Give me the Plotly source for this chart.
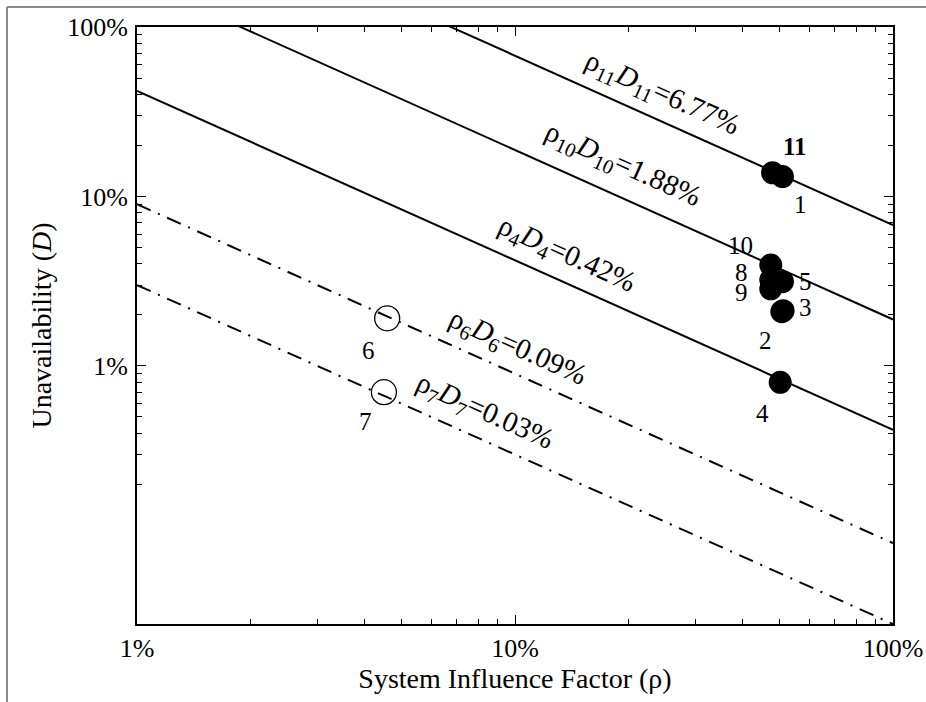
import numpy as np
import plotly.graph_objects as go

# iso-risk lines rho*D = const
line_names = ["11", "10", "4", "6", "7"]
line_products = [0.0677, 0.0188, 0.0042, 0.0009, 0.0003]
line_labels = ["6.77%", "1.88%", "0.42%", "0.09%", "0.03%"]
line_dashed = [False, False, False, True, True]

# systems (filled = on the solid lines, open = on the dash-dot lines)
filled_ids = ["11", "1", "10", "5", "8", "9", "3", "2", "4"]
filled_rho = [0.480, 0.510, 0.475, 0.510, 0.475, 0.475, 0.508, 0.512, 0.503]
filled_D = [0.138, 0.131, 0.0394, 0.0314, 0.0322, 0.0285, 0.0209, 0.0212, 0.0080]
open_ids = ["6", "7"]
open_rho = [0.0459, 0.0450]
open_D = [0.0191, 0.0070]

major_ticks = [0.01, 0.1, 1]
tick_text = ["1%", "10%", "100%"]

W, H = 926, 702
ML, MR, MT, MB = 137, 33, 27, 78
FONT = "Liberation Serif"
Y_LOW = 3e-4

# where the rotated line labels sit (rho, D) and point label offsets (px)
label_pos = {"11": (0.245, 0.4025), "10": (0.192, 0.153), "4": (0.137, 0.0452),
             "6": (0.1016, 0.0128), "7": (0.083, 0.00535)}
pt_offset = {"11": (22, 26), "1": (18, -28), "10": (-30, 20), "5": (23, 0),
             "8": (-29, 7), "9": (-29, -4), "3": (24, 4), "2": (-18, -30),
             "4": (-18, -31), "6": (-19, -32), "7": (-18, -29)}

fig = go.Figure()

rho_span = np.array([0.01, 1.0])
for name, c, dashed in zip(line_names, line_products, line_dashed):
    fig.add_trace(go.Scatter(
        x=rho_span, y=c / rho_span, mode="lines",
        line=dict(color="black", width=2, dash="15px,8px,2px,8px" if dashed else "solid"),
        hoverinfo="skip", showlegend=False))

fig.add_trace(go.Scatter(
    x=filled_rho, y=filled_D, mode="markers", text=filled_ids,
    marker=dict(size=23, color="black"), showlegend=False))
fig.add_trace(go.Scatter(
    x=open_rho, y=open_D, mode="markers", text=open_ids,
    marker=dict(size=25, color="rgba(0,0,0,0)", line=dict(color="black", width=1.3)),
    showlegend=False))

# invisible trace so the overlay axes (long major ticks) get drawn
fig.add_trace(go.Scatter(x=[0.1], y=[0.1], xaxis="x2", yaxis="y2", mode="markers",
                         marker=dict(opacity=0), hoverinfo="skip", showlegend=False))

pw, ph = W - ML - MR, H - MT - MB
angle = np.degrees(np.arctan((ph / -np.log10(Y_LOW)) / (pw / 2)))
for name, lab in zip(line_names, line_labels):
    px_, py_ = label_pos[name]
    fig.add_annotation(
        x=np.log10(px_), y=np.log10(py_), showarrow=False, textangle=angle,
        text="ρ<sub>%s</sub><i>D</i><sub>%s</sub>=%s" % (name, name, lab),
        font=dict(family=FONT, size=29, color="black"))

for ids, rs, ds in [(filled_ids, filled_rho, filled_D), (open_ids, open_rho, open_D)]:
    for i, r, d in zip(ids, rs, ds):
        dx, dy = pt_offset[i]
        fig.add_annotation(
            x=np.log10(r), y=np.log10(d), showarrow=False, xshift=dx, yshift=dy,
            text="<b>%s</b>" % i if i == "11" else i,
            font=dict(family=FONT, size=25, color="black"))

all_x = [m * 10.0 ** e for e in (-2, -1) for m in range(1, 10)] + [1]
all_y = [m * 10.0 ** e for e in (-3,) for m in range(2, 10)] + \
        [m * 10.0 ** e for e in (-2, -1) for m in range(1, 10)] + [1]
lbl = dict(zip(major_ticks, tick_text))

axis_common = dict(
    type="log", showgrid=False, zeroline=False, showline=True, linecolor="black",
    linewidth=2, mirror="ticks", ticks="inside", tickwidth=1.3, tickcolor="black",
    tickmode="array", automargin=False,
    tickfont=dict(family=FONT, size=26, color="black"),
)
x_range = [-2, 0]
y_range = [np.log10(Y_LOW), 0]

fig.update_layout(
    xaxis=dict(**axis_common, range=x_range, ticklen=5, tickvals=all_x,
               ticktext=[lbl.get(v, "") for v in all_x], ticklabelstandoff=0,
               title=dict(text="System Influence Factor (ρ)", standoff=6,
                          font=dict(family=FONT, size=28, color="black"))),
    yaxis=dict(**axis_common, range=y_range, ticklen=5, tickvals=all_y,
               ticktext=[lbl.get(v, "") for v in all_y], ticklabelstandoff=2,
               title=dict(text="Unavailability (<i>D</i>)", standoff=7,
                          font=dict(family=FONT, size=28, color="black"))),
    xaxis2=dict(**axis_common, range=x_range, ticklen=9, tickvals=major_ticks,
                showticklabels=False, overlaying="x", anchor="y2", side="bottom"),
    yaxis2=dict(**axis_common, range=y_range, ticklen=9, tickvals=major_ticks,
                showticklabels=False, overlaying="y", anchor="x2", side="left"),
)

# grey frame of the original figure window (top and left edges)
fx0 = (7 - ML) / pw
fy1 = 1 + (MT - 7) / ph
fx1 = (W - ML) / pw
fy0 = -MB / ph
fig.add_shape(type="line", xref="paper", yref="paper", x0=fx0, x1=fx1, y0=fy1, y1=fy1,
              line=dict(color="#8a8a8a", width=2))
fig.add_shape(type="line", xref="paper", yref="paper", x0=fx0, x1=fx0, y0=fy0, y1=fy1,
              line=dict(color="#8a8a8a", width=2))

fig.update_layout(
    width=W, height=H, margin=dict(l=ML, r=MR, t=MT, b=MB, autoexpand=False),
    paper_bgcolor="white", plot_bgcolor="white", showlegend=False,
    font=dict(family=FONT, color="black"),
)

fig.write_html("out.html", config={"displayModeBar": False},
               post_script="document.body.style.margin='0';document.body.style.overflow='hidden';")
